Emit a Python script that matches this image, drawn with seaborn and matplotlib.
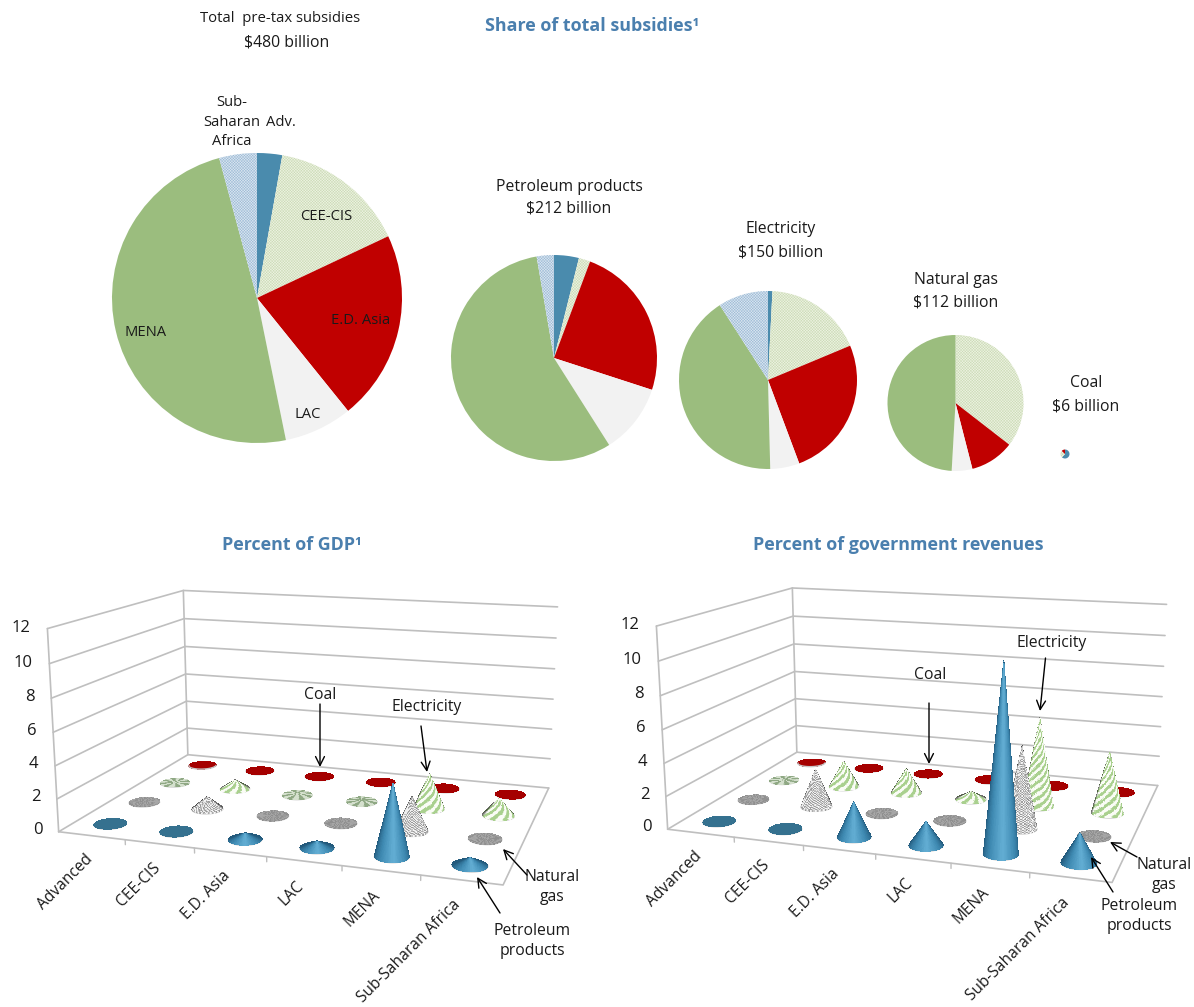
import numpy as np
import matplotlib
matplotlib.use('Agg')
import matplotlib.pyplot as plt
from matplotlib.colors import to_rgb
from mpl_toolkits.mplot3d import proj3d
import seaborn as sns

sns.set_theme(style="white")
plt.rcParams['font.family'] = ['Open Sans', 'DejaVu Sans']
plt.rcParams['hatch.linewidth'] = 0.35

W, H = 1194, 1007

regions = ['Advanced', 'CEE-CIS', 'E.D. Asia', 'LAC', 'MENA', 'Sub-Saharan Africa']

# share of total subsidies, order follows regions
share_total = [2.8, 15.2, 21.2, 7.6, 49.0, 4.2]
share_petroleum = [3.9, 1.8, 24.3, 11.0, 56.3, 2.7]
share_electricity = [0.8, 17.9, 25.6, 5.3, 41.3, 9.1]
share_gas = [0.0, 35.5, 10.5, 4.9, 49.1, 0.0]
share_coal = [62.0, 25.0, 13.0, 0.0, 0.0, 0.0]

# percent of GDP
gdp_petroleum = [0.0, 0.0, 0.4, 0.4, 4.2, 0.45]
gdp_gas = [0.0, 0.8, 0.0, 0.0, 2.1, 0.0]
gdp_electricity = [0.0, 0.6, 0.1, 0.1, 2.25, 1.1]
gdp_coal = [0.0, 0.0, 0.0, 0.0, 0.0, 0.0]

# percent of government revenues
rev_petroleum = [0.0, 0.0, 2.1, 1.4, 10.8, 1.7]
rev_gas = [0.0, 2.4, 0.1, 0.1, 5.0, 0.0]
rev_electricity = [0.0, 1.7, 1.6, 0.5, 5.65, 3.85]
rev_coal = [0.0, 0.0, 0.0, 0.0, 0.0, 0.0]

z_ticks = [0, 2, 4, 6, 8, 10, 12]

BLUE = '#4A7FAE'
GRID = '#BFBFBF'
TEXT = '#1a1a1a'
PIE_COLORS = sns.color_palette(['#4A8BAD', '#EEF3E3', '#C00000', '#F2F2F2', '#9BBD7E', '#DCE7F1'])
PIE_HATCH = {1: '#CBDBB6', 5: '#9DBBD6'}

fig = plt.figure(figsize=(W / 100, H / 100), dpi=100)


def draw_pie(values, cx, cy, r):
    ax = fig.add_axes([(cx - r) / W, 1 - (cy + r) / H, 2 * r / W, 2 * r / H])
    wedges, _ = ax.pie(values, colors=PIE_COLORS, startangle=90, counterclock=False,
                       radius=1, wedgeprops={'linewidth': 0})
    for i, c in PIE_HATCH.items():
        wedges[i].set_hatch('/' * 12 + '\\' * 12)
        wedges[i].set_edgecolor(c)
    ax.set_xlim(-1, 1)
    ax.set_ylim(-1, 1)


draw_pie(share_total, 257, 298, 145)
draw_pie(share_petroleum, 554, 358, 103)
draw_pie(share_electricity, 768, 380, 89)
draw_pie(share_gas, 955.5, 403, 68)
draw_pie(share_coal, 1065, 454, 4.5)

# cones
RADIUS = 0.22
AZIM = -71.5
ELEV = 13.4
blue_ramp = np.array(sns.blend_palette(['#235A7C', '#3D88B0', '#62ADD3', '#3D88B0', '#235A7C'], 101))


def mix(a, b, t):
    a, b = np.array(to_rgb(a)), np.array(to_rgb(b))
    return a + (b - a) * t[..., None]


def cone_colors(kind, v, theta, s):
    z = v * s
    flat = v < 0.15
    facing = np.cos(theta - np.radians(AZIM))
    edge = 0.45 + 0.55 * np.clip(facing / 0.3, 0, 1)
    if kind == 'petroleum':
        if flat:
            return np.ones(theta.shape + (3,)) * np.array(to_rgb('#35718F'))
        # dark at the silhouette, light facing the viewer
        rel = (theta - np.radians(AZIM) + np.pi / 2) % (2 * np.pi) / np.pi
        idx = np.clip((rel * 100).astype(int), 0, 100)
        idx[rel > 1] = 0
        return blue_ramp[idx]
    if kind == 'gas':
        wave = 0.5 + 0.5 * np.sin(2 * np.pi * (24 * theta / (2 * np.pi) + 7 * z))
        cols = mix('#8E8E8E', '#A8A8A8', wave) if flat else mix('#989898', '#F8F8F8', wave)
    elif kind == 'electricity':
        wave = np.clip(0.5 + 1.2 * np.sin(2 * np.pi * (8 * theta / (2 * np.pi) - 2 * z)), 0, 1)
        if flat:
            cols = mix('#8FA884', '#D5E0CE', wave)
        else:
            cols = mix('#A9D08E', '#FAFCF6', wave)
    else:
        return np.ones(theta.shape + (3,)) * np.array(to_rgb('#A50000'))
    if not flat:
        cols = cols * edge[..., None]
    return cols


def draw_cone(ax, x, y, v, kind):
    theta, s = np.meshgrid(np.linspace(0, 2 * np.pi, 121), np.linspace(0, 1, 13 + int(v * 12)))
    X = x + RADIUS * (1 - s) * np.cos(theta)
    Y = y + RADIUS * (1 - s) * np.sin(theta)
    Z = v * s
    ax.plot_surface(X, Y, Z, facecolors=cone_colors(kind, v, theta, s), rstride=1, cstride=1,
                    shade=False, linewidth=0, antialiased=False)
    # pale rim on the side facing the viewer
    t = np.radians(AZIM) + np.linspace(-np.pi / 2, np.pi / 2, 30)
    ax.plot(x + RADIUS * np.cos(t), y + RADIUS * np.sin(t), np.zeros_like(t), color='#C8C8C8', lw=1)


def text_at(ax, x, y, z, s, **kw):
    # Text3D forces its own rotation, so place plain text at the projected spot
    x2, y2, _ = proj3d.proj_transform(x, y, z, ax.get_proj())
    ax.text2D(x2, y2, s, transform=ax.transData, color=TEXT, **kw)


def draw_panel(left_px, bottom_px, petroleum, gas, electricity, coal):
    S = 538
    ax = fig.add_axes([left_px / W, bottom_px / H, S / W, S / H], projection='3d')
    ax.patch.set_alpha(0)
    ax.set_xlim(0, 6, view_margin=0)
    ax.set_ylim(0, 4, view_margin=0)
    ax.set_zlim(0, 12, view_margin=0)
    ax.set_box_aspect((2.17, 1.49, 1), zoom=1)
    ax.view_init(elev=ELEV, azim=AZIM)
    ax.set_proj_type('persp', focal_length=0.393)
    ax.set_axis_off()

    for z in z_ticks:
        ax.plot([0, 0, 6], [0, 4, 4], [z, z, z], color=GRID, lw=1.2)
        text_at(ax, -0.25, 0, z, str(z), ha='right', va='center', fontsize=12)
    ax.plot([0, 0], [0, 0], [0, 12], color=GRID, lw=1.2)
    ax.plot([0, 0], [4, 4], [0, 12], color=GRID, lw=1.2)
    ax.plot([0, 6, 6], [0, 0, 4], [0, 0, 0], color=GRID, lw=1.2)
    for i in range(1, 6):
        ax.plot([i, i], [0, 0], [0, -0.3], color=GRID, lw=1)

    for i, name in enumerate(regions):
        text_at(ax, i + 0.46, 0, -1.3, name, rotation=45, ha='right', va='center',
                rotation_mode='anchor', fontsize=11.2)
        for j, (kind, vals) in enumerate([('petroleum', petroleum), ('gas', gas),
                                          ('electricity', electricity), ('coal', coal)]):
            draw_cone(ax, i + 0.5, j + 0.5, vals[i], kind)
    return ax


draw_panel(42, 16, gdp_petroleum, gdp_gas, gdp_electricity, gdp_coal)
draw_panel(651, 18.5, rev_petroleum, rev_gas, rev_electricity, rev_coal)

# overlay in pixel coordinates for titles, captions and arrows
ov = fig.add_axes([0, 0, 1, 1], facecolor='none')
ov.set_xlim(0, W)
ov.set_ylim(H, 0)
ov.axis('off')


def label(x, y, s, size=11.3, spacing=1.3):
    ov.text(x, y + 1, s, ha='center', va='center', fontsize=size, color=TEXT, linespacing=spacing)


def arrow(x0, y0, x1, y1):
    ov.annotate('', xy=(x1, y1), xytext=(x0, y0),
                arrowprops=dict(arrowstyle='->', color='black', lw=1, mutation_scale=16,
                                shrinkA=0, shrinkB=0))


for x, y, s in [(592, 26, 'Share of total subsidies¹'), (292, 545, 'Percent of GDP¹'),
                (898, 545, 'Percent of government revenues')]:
    ov.text(x, y, s, ha='center', va='center', fontsize=12.9, fontweight='bold', color=BLUE)

label(280, 18, 'Total  pre-tax subsidies', size=10.7)
label(287, 41, '$480 billion')
label(569, 186, 'Petroleum products')
label(569, 208, '$212 billion')
label(781, 228, 'Electricity')
label(781, 251, '$150 billion')
label(956, 279, 'Natural gas')
label(956, 302, '$112 billion')
label(1086, 382, 'Coal')
label(1086, 405, '$6 billion')

label(232, 121, 'Sub-\nSaharan\nAfrica', size=10.6, spacing=1.45)
label(281, 121, 'Adv.', size=10.6)
label(326, 215, 'CEE-CIS', size=10.6)
label(361, 320, 'E.D. Asia', size=10.6)
label(308, 413, 'LAC', size=10.6)
label(146, 332, 'MENA', size=10.6)

# left panel callouts
label(320, 694, 'Coal')
arrow(320, 704, 320, 767)
label(427, 706, 'Electricity')
arrow(421, 726, 427, 772)
label(552, 886, 'Natural\ngas')
arrow(527, 875, 503, 849)
label(532, 940, 'Petroleum\nproducts')
arrow(500, 913, 477, 877)

# right panel callouts
label(930, 674, 'Coal')
arrow(929, 703, 929, 764)
label(1052, 642, 'Electricity')
arrow(1045.5, 658, 1040, 711)
label(1164, 874, 'Natural\ngas')
arrow(1137, 857, 1110, 842)
label(1139, 915, 'Petroleum\nproducts')
arrow(1113, 892, 1091, 857)

fig.savefig('out.png', dpi=100)
